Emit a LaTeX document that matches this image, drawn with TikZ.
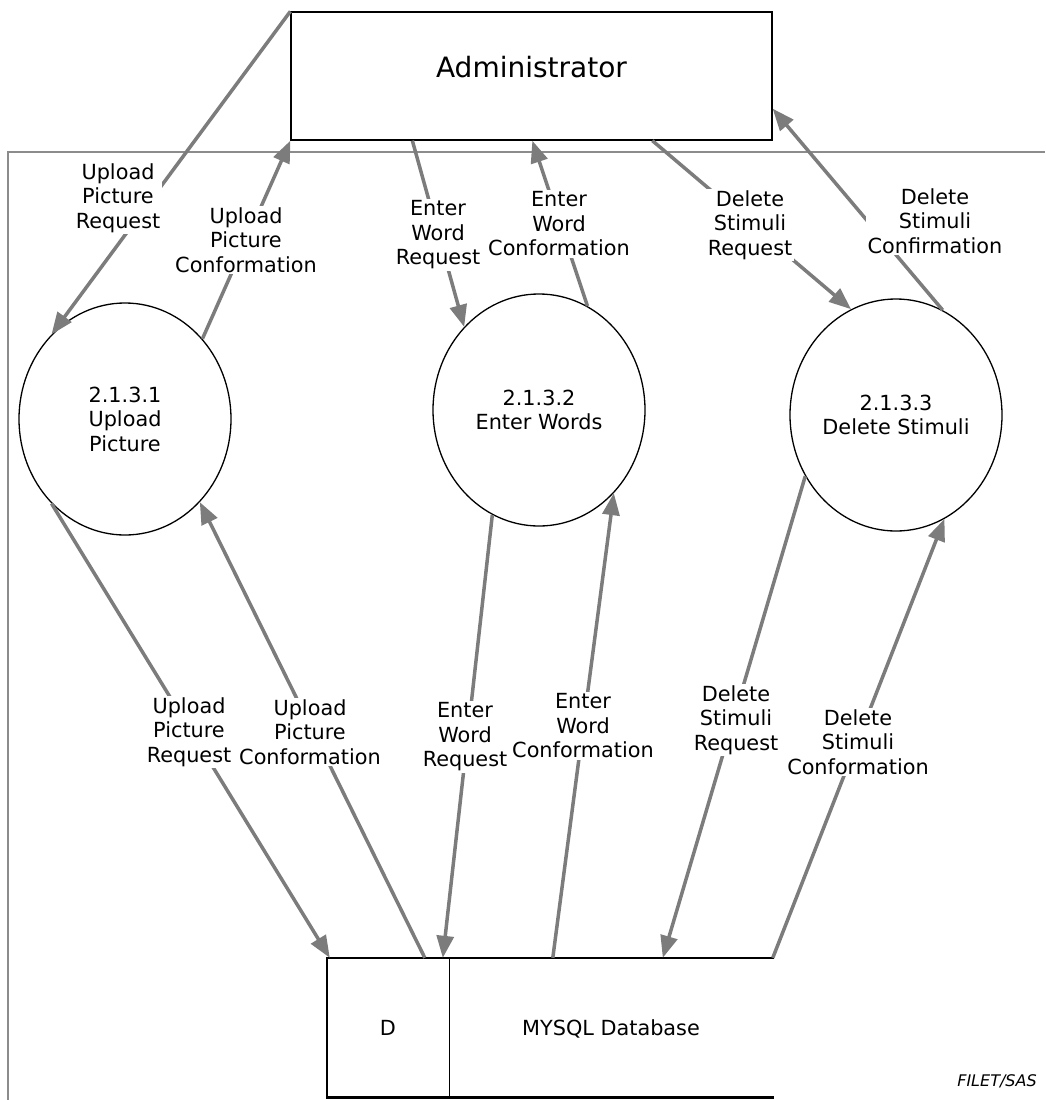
\documentclass[tikz,border=0pt]{standalone}
\usepackage{fontspec}
\setmainfont{DejaVu Sans}
\usetikzlibrary{arrows.meta,shapes.geometric,calc}
\definecolor{flowgray}{RGB}{124,124,124}
\definecolor{framegray}{RGB}{140,140,140}
\begin{document}
\begin{tikzpicture}[x=1pt,y=-1pt,
  txt/.style={font=\fontsize{20.8}{24.5}\selectfont},
  lbl/.style={txt,fill=white,align=center,inner sep=1.5pt},
  proc/.style={txt,ellipse,draw,line width=1.3pt,fill=white,minimum width=212pt,minimum height=232pt,
    inner sep=0pt,align=center},
  flow/.style={draw=flowgray,line width=3.5pt,-{Triangle[length=22pt,width=17pt]}},
  store/.style={line width=2.6pt,line cap=rect},
]
\useasboundingbox (0,0) rectangle (1045,1100);

% boundary of the context
\draw[framegray,line width=1.5pt] (8,1100) -- (8,152) -- (1045,152);

% external entity
\node[draw,line width=1.3pt,minimum width=481pt,minimum height=128pt,inner sep=0pt] (adm) at (531.5,76) {};
\node[font=\fontsize{28}{30}\selectfont] (admname) at ($(adm.center)+(0,-9)$) {Administrator};

% processes
\node[proc] (p1) at (125,419) {2.1.3.1\\Upload\\Picture};
\node[proc] (p2) at (539,410) {2.1.3.2\\Enter Words};
\node[proc] (p3) at (896,415) {2.1.3.3\\Delete Stimuli};

% data store
\node[minimum width=445pt,minimum height=139pt,inner sep=0pt] (db) at (549.5,1027.5) {};
\node[txt,minimum width=122pt,minimum height=139pt,inner sep=0pt] (dbid) at (388,1027.5) {D};
\node[txt] (dbname) at (611,1029) {MYSQL Database};
\draw[store] (db.north west) -- (db.north east);
\draw[store] (db.south west) -- (db.south east);
\draw[store] (db.north west) -- (db.south west);
\draw[line width=1.3pt] (dbid.north east) -- (dbid.south east);

% flows between the administrator and the processes
\draw[flow] (adm.north west) -- (p1.131.8);
\draw[flow] (p1.46.4) -- (adm.south west);
\draw[flow] ($(adm.south west)+(122,0)$) -- (p2.132);
\draw[flow] (p2.65) -- ($(adm.south west)+(242,0)$);
\draw[flow] ($(adm.south west)+(362,0)$) -- (p3.113.7);
\draw[flow] (p3.66.5) -- ($(adm.south east)+(0,-32)$);

% flows between the processes and the data store
\draw[flow] (p1.229.4) -- ($(db.north west)+(3,0)$);
\draw[flow] ($(db.north west)+(98,0)$) -- (p1.312.5);
\draw[flow] (p2.246.3) -- ($(db.north west)+(116,0)$);
\draw[flow] ($(db.north west)+(226,0)$) -- (p2.312.9);
\draw[flow] (p3.214.3) -- ($(db.north west)+(336,0)$);
\draw[flow] ($(db.north west)+(446,0)$) -- (p3.295.3);

% flow labels
\node[lbl] (l1) at (118,198) {Upload\\Picture\\Request};
\node[lbl] (l2) at (246,240) {Upload\\Picture\\Conformation};
\node[lbl] (l3) at (438,235) {Enter\\Word\\Request};
\node[lbl] (l4) at (559,224) {Enter\\Word\\Conformation};
\node[lbl] (l5) at (750,225) {Delete\\Stimuli\\Request};
\node[lbl] (l6) at (935,221) {Delete\\Stimuli\\Confirmation};
\node[lbl] (l7) at (189,732) {Upload\\Picture\\Request};
\node[lbl] (l8) at (310,732) {Upload\\Picture\\Conformation};
\node[lbl] (l9) at (465,737) {Enter\\Word\\Request};
\node[lbl] (l10) at (583,726) {Enter\\Word\\Conformation};
\node[lbl] (l11) at (736,720) {Delete\\Stimuli\\Request};
\node[lbl] (l12) at (858,742) {Delete\\Stimuli\\Conformation};

% author tag
\node[font=\fontsize{16}{18}\itshape] (tag) at (997,1081) {FILET/SAS};
\end{tikzpicture}
\end{document}
